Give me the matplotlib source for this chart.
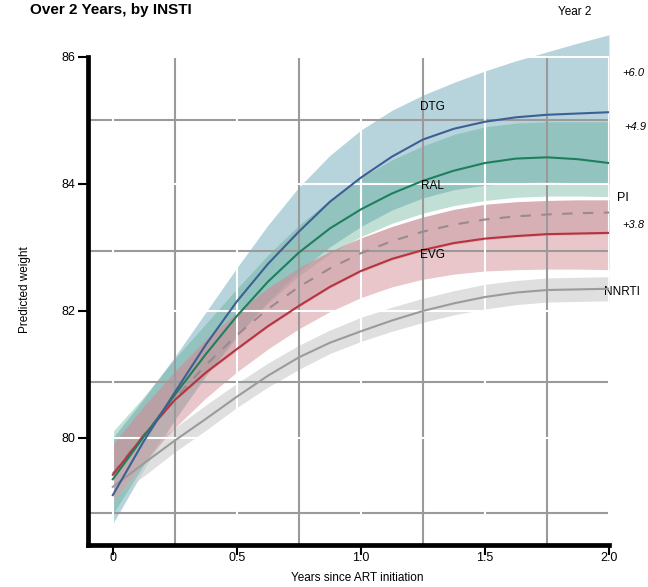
import matplotlib
matplotlib.use("Agg")
import matplotlib.pyplot as plt

plt.rcParams['font.family'] = ['Liberation Sans', 'DejaVu Sans']

# years since ART initiation (sampled every 1.5 months)
years = [0, 0.125, 0.25, 0.375, 0.5, 0.625, 0.75, 0.875, 1.0,
         1.125, 1.25, 1.375, 1.5, 1.625, 1.75, 1.875, 2.0]

# predicted weight
dtg = [79.10, 79.95, 80.72, 81.47, 82.15, 82.74, 83.25, 83.72, 84.10,
       84.43, 84.70, 84.87, 84.98, 85.05, 85.09, 85.11, 85.13]
dtg_lo = [78.65, 79.50, 80.28, 80.98, 81.60, 82.15, 82.62, 83.01, 83.33,
          83.59, 83.78, 83.91, 83.98, 84.02, 84.03, 84.02, 84.00]
dtg_hi = [80.00, 80.62, 81.28, 81.98, 82.68, 83.35, 83.95, 84.45, 84.85,
          85.16, 85.40, 85.60, 85.78, 85.94, 86.08, 86.22, 86.35]

ral = [79.35, 80.02, 80.68, 81.32, 81.92, 82.46, 82.92, 83.30, 83.60,
       83.85, 84.05, 84.21, 84.33, 84.40, 84.42, 84.39, 84.33]
ral_lo = [78.80, 79.58, 80.30, 80.98, 81.60, 82.12, 82.55, 82.90, 83.17,
          83.38, 83.54, 83.66, 83.74, 83.79, 83.81, 83.81, 83.80]
ral_hi = [80.10, 80.65, 81.25, 81.80, 82.35, 82.88, 83.35, 83.75, 84.10,
          84.38, 84.60, 84.78, 84.90, 84.96, 84.98, 84.98, 84.98]

evg = [79.42, 80.04, 80.60, 81.03, 81.40, 81.76, 82.08, 82.38, 82.63,
       82.82, 82.96, 83.07, 83.14, 83.18, 83.21, 83.22, 83.23]
evg_lo = [79.00, 79.62, 80.16, 80.63, 81.04, 81.40, 81.72, 81.99, 82.21,
          82.38, 82.50, 82.58, 82.63, 82.65, 82.66, 82.66, 82.65]
evg_hi = [79.90, 80.50, 81.05, 81.55, 81.98, 82.36, 82.68, 82.94, 83.15,
          83.33, 83.48, 83.60, 83.68, 83.72, 83.74, 83.75, 83.75]

pi = [79.44, 80.05, 80.62, 81.15, 81.62, 82.03, 82.38, 82.67, 82.91,
      83.10, 83.25, 83.36, 83.44, 83.49, 83.52, 83.54, 83.55]
pi_lo = [79.40, 80.02, 80.58, 81.01, 81.38, 81.74, 82.06, 82.36, 82.61,
         82.80, 82.94, 83.05, 83.12, 83.16, 83.19, 83.20, 83.21]
pi_hi = [79.90, 80.50, 81.05, 81.55, 81.98, 82.36, 82.68, 82.94, 83.15,
         83.33, 83.48, 83.60, 83.68, 83.72, 83.74, 83.75, 83.75]

nnrti = [79.23, 79.60, 79.96, 80.30, 80.65, 80.98, 81.27, 81.50, 81.68,
         81.85, 82.00, 82.12, 82.22, 82.29, 82.33, 82.34, 82.35]
nnrti_lo = [79.05, 79.40, 79.78, 80.12, 80.48, 80.80, 81.08, 81.33, 81.52,
            81.68, 81.82, 81.94, 82.03, 82.10, 82.14, 82.15, 82.16]
nnrti_hi = [79.45, 79.80, 80.16, 80.52, 80.86, 81.18, 81.46, 81.70, 81.90,
            82.06, 82.20, 82.32, 82.42, 82.48, 82.52, 82.53, 82.54]

# odd grid of the original: grey lines offset from the white ones
grey_h = [85.0, 82.94, 80.88, 78.82]
grey_v = [0.25, 0.75, 1.25, 1.75]
white_h = [80, 82, 84, 86]
white_v = [0, 0.5, 1.0, 1.5, 2.0]

x_ticks = [0, 0.5, 1.0, 1.5, 2.0]
x_labels = ['0', '0.5', '1.0', '1.5', '2.0']
y_ticks = [80, 82, 84, 86]

ymin, ymax = 78.315, 86.425

fig = plt.figure(figsize=(6.48, 5.87), dpi=100)
ax = fig.add_axes([0.1358, 0.0716, 0.804, 0.8773])

# bands
ax.fill_between(years, dtg_lo, dtg_hi, color='#9fc6d1', alpha=0.75, lw=0, zorder=1)
ax.fill_between(years, ral_lo, ral_hi, color='#52a58a', alpha=0.35, lw=0, zorder=1.1)
ax.fill_between(years, nnrti_lo, nnrti_hi, color='#d2d2d2', alpha=0.7, lw=0, zorder=1)
ax.fill_between(years, evg_lo, evg_hi, color='#d9a0a8', alpha=0.6, lw=0, zorder=1.2)
ax.fill_between(years, pi_lo, pi_hi, color='#b08088', alpha=0.3, lw=0, zorder=1.3)

# grid on top of the bands
for v in grey_h:
    ax.plot([-0.1, 2.0], [v, v], color='#9a9a9a', lw=1.5, zorder=2)
for v in grey_v:
    ax.plot([v, v], [ymin, 86], color='#9a9a9a', lw=1.5, zorder=2)
for v in white_h:
    ax.plot([-0.1, 2.0], [v, v], color='white', lw=1.5, zorder=3)
for v in white_v:
    ax.plot([v, v], [ymin, 86], color='white', lw=1.5, zorder=3)

# curves
ax.plot(years, nnrti, color='#9b9b9b', lw=1.5, zorder=4)
ax.plot(years, pi, color='#9a8a8e', lw=1.5, ls=(0, (5, 5)), zorder=4)
ax.plot(years, evg, color='#b8323f', lw=1.5, zorder=4)
ax.plot(years, ral, color='#1f7f5c', lw=1.5, zorder=4)
ax.plot(years, dtg, color='#3d5f94', lw=1.5, zorder=4)

# labels on the curves
ax.text(1.29, 85.21, 'DTG', ha='center', va='center', fontsize=8.5, zorder=5)
ax.text(1.29, 83.97, 'RAL', ha='center', va='center', fontsize=8.5, zorder=5)
ax.text(1.29, 82.88, 'EVG', ha='center', va='center', fontsize=8.5, zorder=5)

# right-hand annotations
ax.text(2.10, 85.75, '+6.0', ha='center', va='center', fontsize=8, style='italic', clip_on=False)
ax.text(2.105, 84.90, '+4.9', ha='center', va='center', fontsize=8, style='italic', clip_on=False)
ax.text(2.055, 83.78, 'PI', ha='center', va='center', fontsize=9, clip_on=False)
ax.text(2.10, 83.35, '+3.8', ha='center', va='center', fontsize=8, style='italic', clip_on=False)
ax.text(2.052, 82.30, 'NNRTI', ha='center', va='center', fontsize=8.5, clip_on=False)

ax.set_xlim(-0.1, 2.0)
ax.set_ylim(ymin, ymax)

for s in ['top', 'right']:
    ax.spines[s].set_visible(False)
ax.spines['left'].set_linewidth(3.4)
ax.spines['bottom'].set_linewidth(3.4)
ax.spines['left'].set_bounds(ymin, 86)
ax.spines['left'].set_zorder(6)
ax.spines['bottom'].set_zorder(6)

ax.set_xticks(x_ticks)
ax.set_xticklabels(x_labels)
ax.set_yticks(y_ticks)
ax.tick_params(axis='x', length=7, width=1.5, pad=-2, labelsize=9)
ax.tick_params(axis='y', length=7, width=1.5, pad=2, labelsize=9)

fig.text(0.039, 0.506, 'Predicted weight', rotation=90, ha='center', va='center', fontsize=8.5)
fig.text(0.552, 0.015, 'Years since ART initiation', ha='center', va='center', fontsize=8.5)
fig.text(0.046, 0.977, 'Over 2 Years, by INSTI', ha='left', va='baseline', fontsize=11, fontweight='bold')
fig.text(0.887, 0.98, 'Year 2', ha='center', va='center', fontsize=8.5)

fig.savefig('out.png', dpi=100)
